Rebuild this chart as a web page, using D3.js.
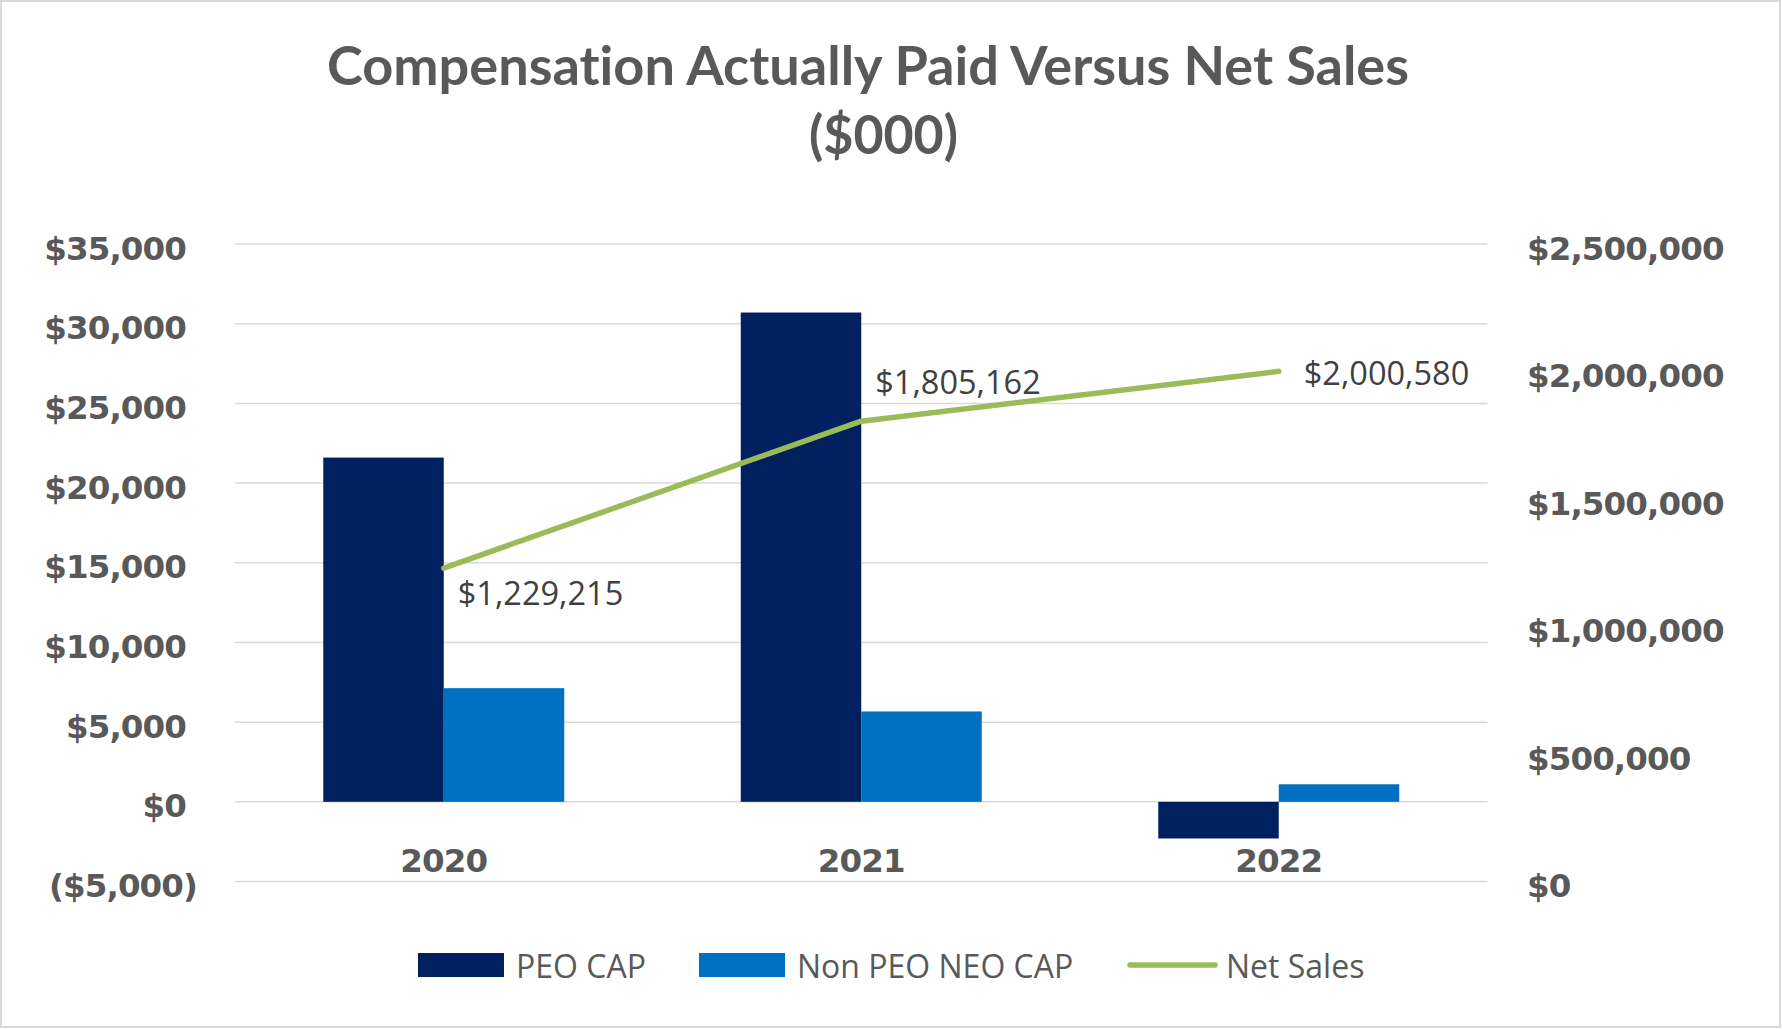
<html>
<head>
    <style>
        body {
            margin: 0;
            background: white;
        }
        .axis text {
            font-family: "DejaVu Sans", Verdana, sans-serif;
            font-weight: bold;
            font-size: 32.5px;
            letter-spacing: -0.9px;
            fill: #595959;
        }
        .title {
            font-variant-ligatures: none;
        }
    </style>
    <script src="https://cdn.jsdelivr.net/npm/d3@7"></script>
</head>
<body>
<div class="chart"></div>

<script type="text/javascript">

    // chart values
    var years = ["2020", "2021", "2022"];
    var seriesNames = ["PEO CAP", "Non PEO NEO CAP"];
    var peoCap = [21600, 30700, -2300];
    var nonPeoCap = [7130, 5670, 1100];
    var netSales = [1229215, 1805162, 2000580];
    var leftTicks = [-5000, 0, 5000, 10000, 15000, 20000, 25000, 30000, 35000];
    var rightTicks = [0, 500000, 1000000, 1500000, 2000000, 2500000];

    var width = 1782,
        height = 1029;
    var plotLeft = 235,
        plotRight = 1487.5,
        plotTop = 244,
        plotBottom = 881.5;

    var colors = {"PEO CAP": "#002060", "Non PEO NEO CAP": "#0070c0"};
    var lineColor = "#9bbb59";

    var svg = d3.select(".chart")
        .append("svg")
        .attr("width", width)
        .attr("height", height);

    // outer frame
    svg.append("rect")
        .attr("x", 1).attr("y", 1)
        .attr("width", width - 3).attr("height", height - 3)
        .attr("fill", "white")
        .attr("stroke", "#d9d9d9")
        .attr("stroke-width", 2);

    // title
    svg.append("text")
        .attr("class", "title")
        .attr("x", 327).attr("y", 85)
        .attr("font-family", "Lato, sans-serif")
        .attr("font-weight", "bold")
        .attr("font-size", 53)
        .attr("fill", "#595959")
        .attr("textLength", 1082)
        .attr("lengthAdjust", "spacingAndGlyphs")
        .text("Compensation Actually Paid Versus Net Sales");
    svg.append("text")
        .attr("class", "title")
        .attr("x", 809).attr("y", 154)
        .attr("font-family", "Lato, sans-serif")
        .attr("font-weight", "bold")
        .attr("font-size", 53)
        .attr("fill", "#595959")
        .attr("textLength", 149)
        .attr("lengthAdjust", "spacingAndGlyphs")
        .text("($000)");

    var x0 = d3.scaleBand().domain(years).range([plotLeft, plotRight]);
    var bw = x0.bandwidth();
    var x1 = d3.scaleBand().domain(seriesNames).range([bw * 0.2114, bw * 0.7886]);
    var yL = d3.scaleLinear().domain([-5000, 35000]).range([plotBottom, plotTop]);
    var yR = d3.scaleLinear().domain([0, 2500000]).range([plotBottom, plotTop]);

    var fmt = d3.format(",");
    function money(v) {
        return v < 0 ? "($" + fmt(-v) + ")" : "$" + fmt(v);
    }

    //// gridlines
    svg.append("g")
        .selectAll("line")
        .data(leftTicks)
        .enter().append("line")
        .attr("x1", plotLeft).attr("x2", plotRight)
        .attr("y1", function (d) { return yL(d); })
        .attr("y2", function (d) { return yL(d); })
        .attr("stroke", "#d9d9d9")
        .attr("stroke-width", 1.5);

    //// left axis
    var leftAxis = svg.append("g")
        .attr("class", "axis")
        .attr("transform", "translate(" + plotLeft + ",0)")
        .call(d3.axisLeft(yL).tickValues(leftTicks).tickSize(0).tickPadding(49).tickFormat(money));
    leftAxis.select(".domain").remove();
    leftAxis.selectAll("text").attr("dy", 15)
        .attr("dx", function (d) { return d < 0 ? 11 : 0; });

    //// right axis
    var rightAxis = svg.append("g")
        .attr("class", "axis")
        .attr("transform", "translate(" + plotRight + ",0)")
        .call(d3.axisRight(yR).tickValues(rightTicks).tickSize(0).tickPadding(39.5).tickFormat(money));
    rightAxis.select(".domain").remove();
    rightAxis.selectAll("text").attr("dy", 15);

    //// category labels
    svg.append("g")
        .attr("class", "axis")
        .selectAll("text")
        .data(years)
        .enter().append("text")
        .attr("x", function (d) { return x0(d) + bw / 2; })
        .attr("y", 872)
        .attr("text-anchor", "middle")
        .text(function (d) { return d; });

    //// bars
    var rows = years.map(function (yr, i) {
        return {year: yr, values: [
            {name: "PEO CAP", value: peoCap[i]},
            {name: "Non PEO NEO CAP", value: nonPeoCap[i]}
        ]};
    });

    svg.append("g")
        .selectAll("g")
        .data(rows)
        .enter().append("g")
        .attr("transform", function (d) { return "translate(" + x0(d.year) + ",0)"; })
        .selectAll("rect")
        .data(function (d) { return d.values; })
        .enter().append("rect")
        .attr("x", function (d) { return x1(d.name); })
        .attr("width", x1.bandwidth())
        .attr("y", function (d) { return yL(Math.max(0, d.value)); })
        .attr("height", function (d) { return Math.abs(yL(d.value) - yL(0)); })
        .attr("fill", function (d) { return colors[d.name]; });

    //// net sales line
    var line = d3.line()
        .x(function (d, i) { return x0(years[i]) + bw / 2; })
        .y(function (d) { return yR(d); });

    svg.append("path")
        .datum(netSales)
        .attr("d", line)
        .attr("fill", "none")
        .attr("stroke", lineColor)
        .attr("stroke-width", 5.5)
        .attr("stroke-linecap", "round")
        .attr("stroke-linejoin", "round");

    // label offsets from each point
    var labelDx = [14, 14, 25],
        labelDy = [37, -27, 14];

    svg.append("g")
        .selectAll("text")
        .data(netSales)
        .enter().append("text")
        .attr("x", function (d, i) { return x0(years[i]) + bw / 2 + labelDx[i]; })
        .attr("y", function (d, i) { return yR(d) + labelDy[i]; })
        .attr("font-family", "'Open Sans', sans-serif")
        .attr("font-size", 32.5)
        .attr("fill", "#404040")
        .text(function (d) { return money(d); });

    //// legend
    var legend = svg.append("g");
    var legendItems = [
        {name: "PEO CAP", x: 418, textX: 516},
        {name: "Non PEO NEO CAP", x: 699, textX: 797},
        {name: "Net Sales", x: 1128, textX: 1226}
    ];
    legendItems.forEach(function (d) {
        if (colors[d.name]) {
            legend.append("rect")
                .attr("x", d.x).attr("y", 953)
                .attr("width", 86).attr("height", 24)
                .attr("fill", colors[d.name]);
        } else {
            legend.append("line")
                .attr("x1", d.x + 2).attr("x2", d.x + 87)
                .attr("y1", 965).attr("y2", 965)
                .attr("stroke", lineColor)
                .attr("stroke-width", 5.5)
                .attr("stroke-linecap", "round");
        }
        legend.append("text")
            .attr("x", d.textX).attr("y", 978)
            .attr("font-family", "'Open Sans', sans-serif")
            .attr("font-size", 32)
            .attr("fill", "#595959")
            .text(d.name);
    });

</script>
</body>
</html>
